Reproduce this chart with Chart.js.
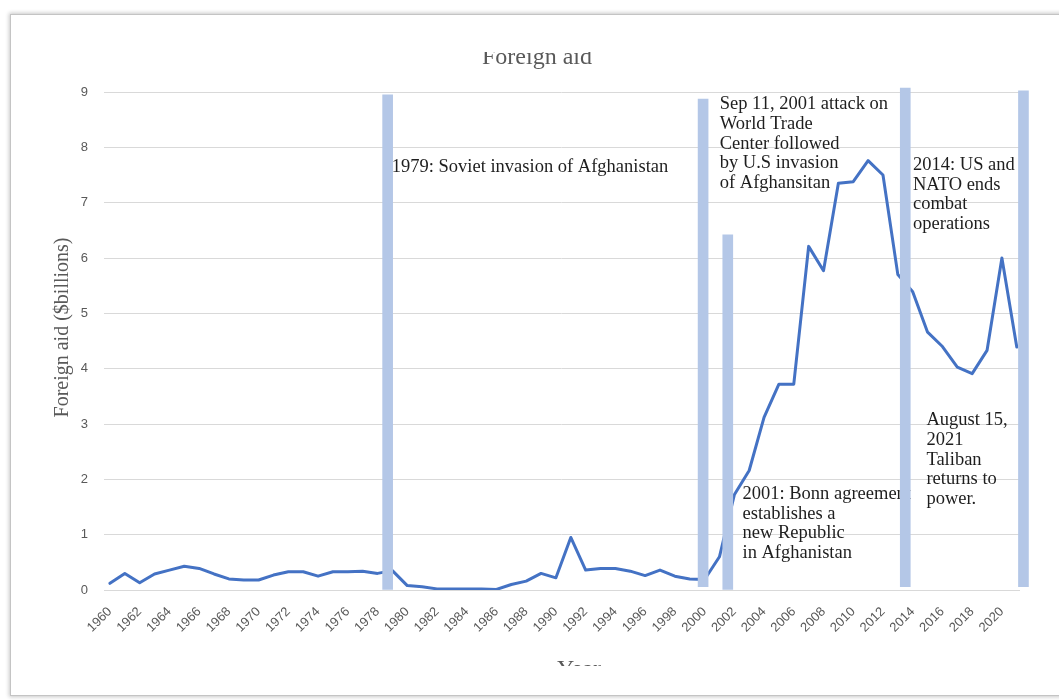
<!DOCTYPE html>
<html>
<head>
<meta charset="utf-8">
<title>Foreign aid</title>
<script src="https://cdn.jsdelivr.net/npm/chart.js@4/dist/chart.umd.min.js"></script>
<style>
  html, body { margin: 0; padding: 0; background: #fff; width: 1059px; height: 700px; overflow: hidden; }
  #frame { position: absolute; left: 10px; top: 14px; width: 1100px; height: 680px;
           border: 1px solid #c4c4c4; box-shadow: 0 0 4px 1px rgba(0,0,0,0.22); background: #fff; }
  #chart { position: absolute; left: 0; top: 52px; }
</style>
</head>
<body>
<div id="frame"></div>
<canvas id="chart" width="1059" height="614"></canvas>
<script>
// Years on the horizontal axis
const years = [
  1960, 1961, 1962, 1963, 1964, 1965, 1966, 1967, 1968, 1969,
  1970, 1971, 1972, 1973, 1974, 1975, 1976, 1977, 1978, 1979,
  1980, 1981, 1982, 1983, 1984, 1985, 1986, 1987, 1988, 1989,
  1990, 1991, 1992, 1993, 1994, 1995, 1996, 1997, 1998, 1999,
  2000, 2001, 2002, 2003, 2004, 2005, 2006, 2007, 2008, 2009,
  2010, 2011, 2012, 2013, 2014, 2015, 2016, 2017, 2018, 2019,
  2020, 2021
];

// Foreign aid received, $ billions
const aidBillions = [
  0.12, 0.30, 0.13, 0.29, 0.36, 0.43, 0.39, 0.29, 0.20, 0.18,
  0.18, 0.27, 0.33, 0.33, 0.25, 0.33, 0.33, 0.34, 0.30, 0.35,
  0.08, 0.06, 0.02, 0.02, 0.02, 0.02, 0.01, 0.10, 0.16, 0.30,
  0.22, 0.95, 0.36, 0.39, 0.39, 0.34, 0.26, 0.36, 0.25, 0.20,
  0.19, 0.60, 1.72, 2.16, 3.12, 3.72, 3.72, 6.21, 5.77, 7.35,
  7.38, 7.76, 7.50, 5.70, 5.39, 4.66, 4.40, 4.03, 3.91, 4.33,
  6.00, 4.39
];

// Axis tick labels
const yearTicks = [
  1960, 1962, 1964, 1966, 1968, 1970, 1972, 1974, 1976, 1978,
  1980, 1982, 1984, 1986, 1988, 1990, 1992, 1994, 1996, 1998,
  2000, 2002, 2004, 2006, 2008, 2010, 2012, 2014, 2016, 2018, 2020
];
const valueTicks = [0, 1, 2, 3, 4, 5, 6, 7, 8, 9];

// Event markers (vertical bands): where they stand and how far they reach
const eventYears = [1978.68, 1999.9, 2001.56, 2013.5, 2021.45];
const eventBase  = [0, 0.06, 0, 0.06, 0.06];
const eventTop   = [8.95, 8.87, 6.42, 9.07, 9.02];

// Event notes, anchored in year / value units
const noteLines = [
  ['1979: Soviet invasion of Afghanistan'],
  ['Sep 11, 2001 attack on', 'World Trade', 'Center followed', 'by U.S invasion', 'of Afghansitan'],
  ['2001: Bonn agreement', 'establishes a', 'new Republic', 'in Afghanistan'],
  ['2014: US and', 'NATO ends', 'combat', 'operations'],
  ['August 15,', '2021', 'Taliban', 'returns to', 'power.']
];
const noteYears  = [1978.96, 2001.02, 2002.55, 2014.02, 2014.92];
const noteValues = [7.64, 8.78, 1.735, 7.68, 3.07];

const chartTitle = 'Foreign aid';
const xTitle = 'Year';
const yTitle = 'Foreign aid ($billions)';

const serif = '"Liberation Serif", "Times New Roman", serif';
const sans = '"Liberation Sans", Arial, sans-serif';
const greyText = '#595959';

const lineData = years.map((yr, i) => ({ x: yr, y: aidBillions[i] }));
const eventData = eventYears.map((yr, i) => ({ x: yr, y: [eventBase[i], eventTop[i]] }));

const textPlugin = {
  id: 'chartText',
  beforeDatasetsDraw(chart) {
    const { ctx, scales: { x, y } } = chart;
    ctx.save();
    ctx.fillStyle = '#1e1e1e';
    ctx.font = '18.5px ' + serif;
    ctx.textAlign = 'left';
    ctx.textBaseline = 'middle';
    noteLines.forEach((lines, i) => {
      const px = x.getPixelForValue(noteYears[i]);
      const py = y.getPixelForValue(noteValues[i]);
      lines.forEach((t, j) => ctx.fillText(t, px, py + j * 19.8));
    });
    ctx.restore();
  },
  afterDraw(chart) {
    const { ctx } = chart;
    ctx.save();
    ctx.fillStyle = greyText;
    ctx.textAlign = 'center';
    ctx.textBaseline = 'alphabetic';
    // chart title, partly above the canvas edge
    ctx.font = '24px ' + serif;
    ctx.fillText(chartTitle, 537, 11.5);
    // horizontal axis title, partly below the canvas edge
    ctx.fillText(xTitle, 579, 624);
    // vertical axis title
    ctx.font = '20px ' + serif;
    ctx.translate(63, 275.5);
    ctx.rotate(-Math.PI / 2);
    ctx.textBaseline = 'middle';
    ctx.fillText(yTitle, 0, 0);
    ctx.restore();
  }
};

new Chart(document.getElementById('chart'), {
  type: 'line',
  data: {
    datasets: [
      {
        type: 'bar',
        label: 'Events',
        data: eventData,
        backgroundColor: '#b4c7e7',
        borderWidth: 0,
        barThickness: 10,
        clip: false,
        order: 0
      },
      {
        type: 'line',
        label: 'Foreign aid',
        data: lineData,
        borderColor: '#4472c4',
        borderWidth: 3,
        borderJoinStyle: 'round',
        borderCapStyle: 'round',
        pointRadius: 0,
        tension: 0,
        fill: false,
        order: 1
      }
    ]
  },
  options: {
    responsive: false,
    animation: false,
    devicePixelRatio: 1,
    layout: { padding: { left: 0, right: 40, top: 40, bottom: 0 } },
    plugins: {
      legend: { display: false },
      tooltip: { enabled: false },
      title: { display: false }
    },
    scales: {
      x: {
        type: 'linear',
        offset: false,
        min: 1959.6,
        max: 2021.15,
        grid: { display: false, drawTicks: false, offset: false },
        border: { display: true, color: '#d9d9d9', width: 1 },
        afterBuildTicks: (s) => { s.ticks = yearTicks.map(v => ({ value: v })); },
        afterFit: (s) => { s.height = 76; },
        ticks: {
          autoSkip: false,
          minRotation: 45,
          maxRotation: 45,
          padding: 14,
          color: greyText,
          font: { family: sans, size: 13 },
          callback: (v) => String(v)
        }
      },
      y: {
        min: 0,
        max: 9,
        grid: { color: '#d9d9d9', drawTicks: false, lineWidth: 1 },
        border: { display: false },
        afterBuildTicks: (s) => { s.ticks = valueTicks.map(v => ({ value: v })); },
        afterFit: (s) => { s.width = 104; },
        ticks: {
          padding: 16,
          color: greyText,
          font: { family: sans, size: 13 }
        }
      }
    }
  },
  plugins: [textPlugin]
});
</script>
</body>
</html>
